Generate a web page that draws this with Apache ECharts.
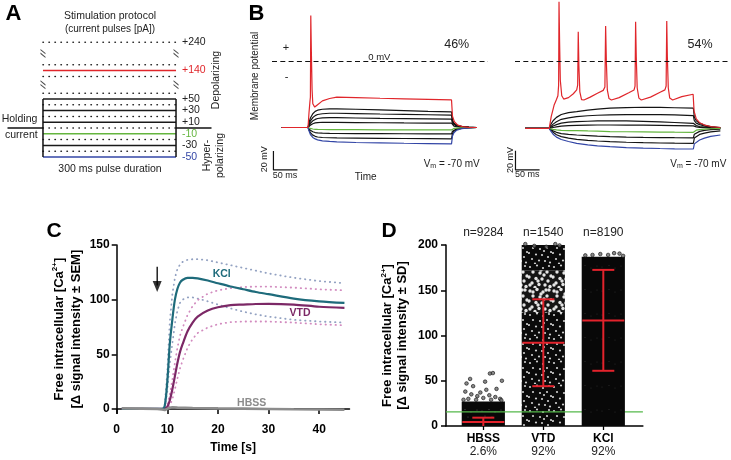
<!DOCTYPE html>
<html><head><meta charset="utf-8">
<script src="https://cdn.jsdelivr.net/npm/echarts@6/dist/echarts.min.js"></script>
<style>html,body{margin:0;padding:0;background:#fff}#c{width:731px;height:460px}</style>
</head><body><div id="c"></div>
<script>
// ================= DATA =================
// Panel A: stimulation protocol (pA)
const pulseLevels = [240,150,140,130,60,50,40,30,20,10,0,-10,-20,-30,-40,-50];
const labeledLevels = [240,140,50,30,10,-10,-30,-50];
const solidLevels = [50,30,10,-30];
const pulseWindow = [0,300];          // ms
const holdingWindow = [-80,380];      // ms
const breakPairs = [[60,130],[150,240]];

// Panel B left (time ms, membrane potential mV)
const tLeft = [-55,0,2,5,10,15,20,30,45,60,100,150,200,250,299,301,304,310,320,335,352];
const L_b1 = [-70,-70,-65,-60,-55.5,-53,-51.8,-50.8,-50.3,-50.3,-50.8,-51.5,-52.3,-53,-53.5,-62,-65.5,-67.5,-68.8,-69.6,-70];
const L_b2 = [-70,-70,-67,-63,-59.5,-57.5,-56.3,-55.5,-55,-55,-55.3,-55.8,-56.2,-56.6,-57,-63.5,-66.5,-68,-69,-69.7,-70];
const L_b3 = [-70,-70,-68,-65.5,-63,-61.5,-60.5,-59.8,-59.6,-59.7,-60,-60.4,-60.7,-61,-61.2,-65.5,-67.5,-68.7,-69.3,-69.8,-70];
const L_b4 = [-70,-70,-69,-67.5,-66,-65.2,-64.8,-64.5,-64.5,-64.6,-64.8,-65,-65.2,-65.3,-65.4,-67.5,-68.5,-69.2,-69.6,-69.9,-70];
const L_green = [-70,-70,-70.5,-71,-71.6,-71.9,-72,-72.1,-72.2,-72.3,-72.3,-72.4,-72.5,-72.5,-72.6,-71.5,-71,-70.6,-70.3,-70.1,-70];
const L_b5 = [-70,-70,-71.5,-73,-74.5,-75.3,-75.7,-76,-76.2,-76.3,-76.4,-76.5,-76.6,-76.7,-76.8,-74,-72.5,-71.3,-70.6,-70.2,-70];
const L_b6 = [-70,-70,-72.5,-75.5,-78,-79.3,-80,-80.5,-80.8,-81,-81.2,-81.4,-81.6,-81.8,-82,-76.5,-74,-72,-70.9,-70.3,-70];
const L_blue = [-70,-70,-73.5,-77.5,-80.5,-82,-83,-84,-84.7,-85.2,-85.8,-86.2,-86.6,-86.9,-87.2,-79,-75.5,-72.8,-71.2,-70.4,-70];
const leftRed = [[-55,-70],[0,-70],[2,-55],[4,-43],[5,-38],[5.8,48],[7,10],[8.5,-30],[10,-45],[14,-48.5],[20,-46],[30,-42],[45,-39.5],[60,-38],[100,-38.5],[150,-39.2],[200,-39.8],[250,-40.3],[299,-41],[301,-58],[305,-64],[312,-67.5],[322,-69],[335,-69.8],[352,-70]];

// Panel B right
const tRight = [-50,0,3,8,15,25,40,57,80,100,126,160,195,230,260,299,301,305,312,322,335,355];
const R_b1 = [-70,-70,-66,-62,-58.5,-55.5,-53.5,-52.5,-51,-50,-49,-48.3,-48,-48.2,-48.5,-49,-58,-62,-64.5,-66.5,-68,-69];
const R_b2 = [-70,-70,-68,-65.5,-63,-60.5,-59,-57.7,-56.8,-56.3,-56,-55.6,-55.5,-55.7,-56,-56.7,-62,-64.5,-66,-67.5,-68.5,-69.3];
const R_b3 = [-70,-70,-69,-67.5,-66,-64.5,-63.5,-63,-62.5,-62.2,-62,-62.2,-62.6,-63.2,-63.8,-64.7,-66,-67,-68,-68.7,-69.2,-69.7];
const R_b4 = [-70,-70,-69.5,-69,-68.3,-67.5,-67,-66.7,-66.5,-66.4,-66.4,-66.5,-66.6,-66.8,-67,-67.3,-67.8,-68.3,-68.8,-69.2,-69.6,-69.9];
const R_green = [-70,-70,-70.5,-71,-71.5,-72,-72.2,-72.3,-72.6,-72.8,-73.2,-73.4,-73.6,-73.8,-73.9,-74,-72.5,-71.8,-71.2,-70.7,-70.3,-70];
const R_b5 = [-70,-70,-71,-72.5,-74,-75.3,-76.2,-76.8,-77.4,-77.9,-78.5,-79,-79.3,-79.5,-79.6,-79.7,-76,-74.5,-73,-72,-71.2,-70.6];
const R_b6 = [-70,-70,-71.5,-74,-76.5,-78.5,-80,-81.3,-82.3,-83,-83.7,-84.3,-84.8,-85.1,-85.3,-85.4,-80,-78,-76.2,-74.8,-73.5,-72.5];
const R_blue = [-70,-70,-72.5,-76,-79,-81.5,-83.5,-85.4,-87,-88,-88.9,-89.8,-90.4,-90.8,-91.1,-91.3,-86,-84,-82,-80,-78.2,-76.8];
const rightRed = [[-50,-70],[0,-70],[4,-58],[10,-46],[15,-40],[18,-36],[19.5,-25],[20.3,61.5],[21.5,20],[23,-20],[26,-36],[30,-39.5],[40,-38],[50,-34],[57,-30],[59,-25],[60.2,30.4],[61.5,-5],[63.5,-32],[67,-40],[72,-40.5],[85,-37.5],[100,-33.5],[112,-30.5],[115.5,-27],[117,36.3],[118.5,0],[120.5,-30],[124,-39],[129,-40.5],[145,-38],[165,-33],[176,-30],[178,-26],[179.2,40.8],[180.5,5],[182.5,-28],[186,-38.5],[191,-40.5],[210,-37.5],[230,-32.5],[240,-30],[242.5,-26],[243.8,41.5],[245,5],[247,-28],[250,-38.5],[256,-40.5],[275,-37],[298.5,-34.5],[300.5,-52],[305,-60],[312,-64],[322,-66.5],[335,-68],[355,-69]];
const scaleBarMv = 20, scaleBarMs = 50;
const leftScaleOrigin = [-72,-114.7];
const rightScaleOrigin = [-70,-113];

// Panel C (time s, Δ signal)
const tC = [1,5,9,9.5,10,10.5,11,11.5,12,12.5,13,14,15,16,18,20,22.5,25,27.5,30,35,40,45];
const kclMean = [0,0,0,3,25,60,82,100,110,115.5,118,120,120,119.5,117.5,115,112,109.5,107,105,101,98.5,97];
const vtdMean = [0,0,0,0.5,2,8,18,30,42,52,59,71,79,84.5,90,93,95,95.5,96,96.2,95.5,93.5,92.5];
const tSem = [9.5,10,10.5,11,11.5,12,12.5,13,14,15,16,18,20,22.5,25,27.5,30,35,40,45];
const kclUpper = [4,35,80,105,120,128,132,134.5,136.5,137,137,136,134,131.5,129,126.5,124,120,117,115];
const kclLower = [2,16,42,60,78,90,97,100,102,102,101,98.5,95.5,92,89,86.5,84.5,81.5,80,79];
const vtdUpper = [1,4,13,27,42,56,67,74,86,94,99.5,105.5,108.5,110.5,111.5,112,112,111,109.5,108.5];
const vtdLower = [0,0.5,3,9,18,28,37,44,56,64,69.5,74.5,77.5,79.5,80,80,80,79,77.5,76.5];
const tHbss = [1,5,8,9,9.5,10,10.5,11,12,15,20,25,30,35,40,45];
const hbss = [0.5,0.3,0,-0.5,-1,0,1,1.5,1.2,0.8,0.5,0.3,0,-0.3,-0.5,-0.8];
const stimulusTime = 8, arrowFrom = 130, arrowTo = 107;
const cXTicks = [0,10,20,30,40];
const cYTicks = [0,50,100,150];

// Panel D
const dCats = ['HBSS','VTD','KCl'];
const dPercent = ['2.6%','92%','92%'];
const dN = ['n=9284','n=1540','n=8190'];
const dMean = [4.3,92,116.5];
const dSdLow = [0,44,61];
const dSdHigh = [9.2,140,172.5];
const dColumnTop = [27,200,187];
const vtdBandEdges = [0,125,172,200];
const dThreshold = 15.5;
const hbssOutliers = [[-0.22,52],[0.03,49],[0.11,58],[0.16,58.5],[0.31,50],[-0.28,47],[-0.17,44],[-0.3,38],[-0.2,35],[-0.1,33],[0,31],[0.1,34],[0.2,32],[0.28,30],[-0.05,37],[0.05,40],[0.22,41],[-0.25,30],[0.13,29],[-0.12,29],[0.3,28.5],[-0.33,29]];
const vtdOutliers = [[-0.3,201],[-0.15,199],[0.2,201],[0.27,199.5],[0.05,198]];
const kclOutliers = [[-0.3,188.5],[-0.18,189],[-0.05,190],[0.08,189],[0.18,191],[0.27,190.5],[0.33,188]];

// ================= STYLE / BUILD =================
const FONT = "'Liberation Sans', Arial, Helvetica, sans-serif";
const RED = '#e0262b', GREEN = '#64b53f', BLUE = '#3346a6', BLK = '#141414';

function rowOf(p){ if (p > 200) return p - 92; if (p > 100) return p - 41; return p; }
const zip = (t, v) => t.map((x,i) => [x, v[i]]);

const series = [];
// ---- Panel A
pulseLevels.forEach(p => {
  const row = rowOf(p);
  let color = '#1a1a1a', labelColor = '#222';
  if (p === 140) { color = RED; labelColor = RED; }
  if (p === -10) { color = GREEN; labelColor = GREEN; }
  if (p === -50) { color = BLUE; labelColor = BLUE; }
  const solid = solidLevels.includes(p) || p === 140 || p === -10 || p === -50;
  const lab = labeledLevels.includes(p);
  series.push({
    type:'line', xAxisIndex:0, yAxisIndex:0, silent:true, symbol:'none',
    name: (p > 0 ? '+' : '') + p,
    data:[[pulseWindow[0], row],[pulseWindow[1], row]],
    lineStyle: solid ? {color, width:1.5} : {color:'#222', width:1.5, type:[0.4,5.6], cap:'round'},
    endLabel: lab ? {show:true, formatter: (prm) => prm.seriesName, color: labelColor, fontSize:10.5, fontFamily:FONT, distance:6} : {show:false}
  });
});
series.push({type:'line', xAxisIndex:0, yAxisIndex:0, silent:true, symbol:'none',
  data:[[holdingWindow[0],0],[pulseWindow[0],0]], lineStyle:{color:'#111', width:1.5}});
series.push({type:'line', xAxisIndex:0, yAxisIndex:0, silent:true, symbol:'none',
  data:[[pulseWindow[1],0],[holdingWindow[1],0]], lineStyle:{color:'#111', width:1.5}});
pulseWindow.forEach(x => series.push({type:'line', xAxisIndex:0, yAxisIndex:0, silent:true, symbol:'none',
  data:[[x,-50],[x,50]], lineStyle:{color:'#111', width:1.5}}));
series.push({type:'scatter', xAxisIndex:0, yAxisIndex:0, silent:true,
  symbol:'path://M0,0 L6,5 L6,6.6 L0,1.6 Z M0,4.5 L6,9.5 L6,11.1 L0,6.1 Z', symbolSize:[5,9],
  itemStyle:{color:'#222'},
  data: breakPairs.flatMap(([a,b]) => { const r = (rowOf(a)+rowOf(b))/2; return [[pulseWindow[0], r],[pulseWindow[1], r]]; })});

// ---- Panel B
function traceSeries(xi, data, color, w){ return {type:'line', xAxisIndex:xi, yAxisIndex:xi, silent:true, symbol:'none', data, lineStyle:{color, width:w||1.2}}; }
const zeroLine = {silent:true, symbol:['none','none'], label:{show:false}, lineStyle:{color:'#111', type:[5,3.3], width:1.1}, data:[{yAxis:0}]};
[[1, tLeft, [L_b1,L_b2,L_b3,L_b4], L_green, [L_b5,L_b6], L_blue, leftRed, leftScaleOrigin],
 [2, tRight, [R_b1,R_b2,R_b3,R_b4], R_green, [R_b5,R_b6], R_blue, rightRed, rightScaleOrigin]].forEach(([xi, t, up, gr, down, bl, red, so]) => {
  up.forEach(v => series.push(traceSeries(xi, zip(t,v), BLK)));
  down.forEach(v => series.push(traceSeries(xi, zip(t,v), BLK)));
  series.push(traceSeries(xi, zip(t,gr), GREEN));
  series.push(traceSeries(xi, zip(t,bl), BLUE));
  const r = traceSeries(xi, red, RED, 1.2);
  r.markLine = zeroLine;
  series.push(r);
  series.push({type:'line', xAxisIndex:xi, yAxisIndex:xi, silent:true, symbol:'none',
    data:[[so[0], so[1]+scaleBarMv],[so[0], so[1]],[so[0]+scaleBarMs, so[1]]], lineStyle:{color:'#111', width:1.2}});
});

// ---- Panel C
const KCL = '#1e6b7b', VTD = '#7c2866', KCL_SEM = '#93a2c2', VTD_SEM = '#d28bbf';
const dotStyle = (c) => ({color:c, width:1.8, type:[0.4,4.6], cap:'round'});
series.push({type:'line', xAxisIndex:3, yAxisIndex:3, silent:true, symbol:'none', data:zip(tSem,kclUpper), lineStyle:dotStyle(KCL_SEM)});
series.push({type:'line', xAxisIndex:3, yAxisIndex:3, silent:true, symbol:'none', data:zip(tSem,kclLower), lineStyle:dotStyle(KCL_SEM)});
series.push({type:'line', xAxisIndex:3, yAxisIndex:3, silent:true, symbol:'none', data:zip(tSem,vtdUpper), lineStyle:dotStyle(VTD_SEM)});
series.push({type:'line', xAxisIndex:3, yAxisIndex:3, silent:true, symbol:'none', data:zip(tSem,vtdLower), lineStyle:dotStyle(VTD_SEM)});
series.push({type:'line', xAxisIndex:3, yAxisIndex:3, silent:true, symbol:'none', smooth:0.3, data:zip(tC,vtdMean), lineStyle:{color:VTD, width:2.2}});
series.push({type:'line', xAxisIndex:3, yAxisIndex:3, silent:true, symbol:'none', smooth:0.3, data:zip(tC,kclMean), lineStyle:{color:KCL, width:2.2}});
series.push({type:'line', xAxisIndex:3, yAxisIndex:3, silent:true, symbol:'none', data:zip(tHbss,hbss), lineStyle:{color:'#8c8c8c', width:2.6}});
// stimulus arrow
series.push({type:'line', xAxisIndex:3, yAxisIndex:3, silent:true, symbol:'none',
  data:[[stimulusTime, arrowFrom],[stimulusTime, arrowTo + 6]], lineStyle:{color:'#000', width:1.3}});
series.push({type:'scatter', xAxisIndex:3, yAxisIndex:3, silent:true, symbol:'triangle', symbolRotate:180, symbolSize:[9,11],
  itemStyle:{color:'#000'}, data:[[stimulusTime, arrowTo + 5]]});

// ---- Panel D
function tile(size, bg, dotColor, dots, r){
  const c = document.createElement('canvas'); c.width = c.height = size;
  const g = c.getContext('2d'); g.fillStyle = bg; g.fillRect(0,0,size,size);
  g.fillStyle = dotColor;
  dots.forEach(([x,y]) => { g.beginPath(); g.arc(x,y,r,0,Math.PI*2); g.fill(); });
  return {image:c, repeat:'repeat'};
}
const speckles = [[2,3],[9,1.5],[15,4],[21,2],[5,8],[12,9],[19,8],[23,12],[1,13],[8,14.5],[14,15],[20,17],[4,19],[11,20.5],[17,21],[22,22.5],[7,23.5],[16,11]];
const patDense = tile(24,'#0a0a0a','#cfcfcf',speckles,1.1);
const patSparse = tile(24,'#151515','#e4e4e4',speckles.concat([[5,4],[18,2],[10,17],[2,21],[13,6]]),1.7);
const patHbss = tile(24,'#080808','#555',speckles.slice(0,6),0.6);
const patKcl = tile(24,'#080808','#333',speckles.slice(0,4),0.5);
const HALF = 0.36;
function columnRender(params, api){
  const x = api.value(0), lo = api.value(1), hi = api.value(2), k = api.value(3);
  const p0 = api.coord([x - HALF, lo]), p1 = api.coord([x + HALF, hi]);
  const fills = [patHbss, patDense, patSparse, patKcl];
  return {type:'rect', shape:{x:p0[0], y:p1[1], width:p1[0]-p0[0], height:p0[1]-p1[1]}, style:{fill: fills[k]}};
}
const lowCols = [[1, 0, dColumnTop[0], 0]];
for (let i = 0; i < vtdBandEdges.length - 1; i++) lowCols.push([2, vtdBandEdges[i], vtdBandEdges[i+1], i === 1 ? 2 : 1]);
series.push({type:'custom', xAxisIndex:4, yAxisIndex:4, silent:true, z:1, renderItem:columnRender, data:lowCols});
series.push({type:'line', xAxisIndex:4, yAxisIndex:4, silent:true, symbol:'none', z:2,
  data:[[0.378,dThreshold],[3.66,dThreshold]], lineStyle:{color:'#55b84a', width:1.3}});
series.push({type:'custom', xAxisIndex:4, yAxisIndex:4, silent:true, z:3, renderItem:columnRender, data:[[3, 0, dColumnTop[2], 3]]});
series.push({type:'scatter', xAxisIndex:4, yAxisIndex:4, silent:true, z:3, clip:false, symbolSize:3.6,
  itemStyle:{color:'#6a6a6a', borderColor:'#111', borderWidth:0.8},
  data:[...hbssOutliers.map(([d,y]) => [1+d,y]), ...vtdOutliers.map(([d,y]) => [2+d,y]), ...kclOutliers.map(([d,y]) => [3+d,y])]});
series.push({type:'custom', xAxisIndex:4, yAxisIndex:4, silent:true, z:4,
  data: dCats.map((c,i) => [i+1, dMean[i], dSdLow[i], dSdHigh[i]]),
  renderItem:(params, api) => {
    const x = api.value(0), m = api.coord([x, api.value(1)]), lo = api.coord([x, api.value(2)]), hi = api.coord([x, api.value(3)]);
    const st = {stroke:'#e3232c', lineWidth:2};
    const ch = [
      {type:'line', shape:{x1:m[0], y1:lo[1], x2:m[0], y2:hi[1]}, style:st},
      {type:'line', shape:{x1:m[0]-21, y1:m[1], x2:m[0]+21, y2:m[1]}, style:st},
      {type:'line', shape:{x1:m[0]-11, y1:hi[1], x2:m[0]+11, y2:hi[1]}, style:st}
    ];
    if (api.value(2) > 0) ch.push({type:'line', shape:{x1:m[0]-11, y1:lo[1], x2:m[0]+11, y2:lo[1]}, style:st});
    return {type:'group', children:ch};
  }});

// ---- Axes
const axisBlack = {lineStyle:{color:'#000', width:1.5}};
const hidden = (gi, min, max) => ({gridIndex:gi, type:'value', min, max, show:false});
const tickFont = {color:'#000', fontWeight:'bold', fontSize:12, fontFamily:FONT};
const option = {
  animation:false,
  grid:[
    {left:7.5, top:41, width:204, height:121.8},
    {left:272, top:0.2, width:216, height:179.55},
    {left:515, top:0.27, width:215, height:181.2},
    {left:116.7, top:245, width:232.8, height:168.3},
    {left:446, top:245, width:196.9, height:181}
  ],
  xAxis:[
    hidden(0,-80,380), hidden(1,-75,375), hidden(2,-71,375),
    {gridIndex:3, type:'value', min:0, max:46, axisLine:axisBlack, splitLine:{show:false},
     axisTick:{customValues:cXTicks, length:5, lineStyle:{color:'#000', width:1.5}},
     axisLabel:{customValues:cXTicks, ...tickFont, margin:10},
     name:'Time [s]', nameLocation:'middle', nameGap:28, nameTextStyle:{color:'#000', fontWeight:'bold', fontSize:12, fontFamily:FONT}},
    {gridIndex:4, type:'value', min:0.378, max:3.66, axisLine:axisBlack, splitLine:{show:false},
     axisTick:{customValues:[1,2,3], length:4, lineStyle:{color:'#000', width:1.3}},
     axisLabel:{customValues:[1,2,3], margin:6, formatter:(v) => '{b|' + dCats[Math.round(v)-1] + '}\n{p|' + dPercent[Math.round(v)-1] + '}',
       rich:{b:{fontWeight:'bold', fontSize:12, fontFamily:FONT, color:'#000', lineHeight:13.4}, p:{fontSize:12, fontFamily:FONT, color:'#222', lineHeight:13.4}}}},
    {gridIndex:4, type:'value', position:'top', min:0.378, max:3.66, axisLine:{show:false}, axisTick:{show:false}, splitLine:{show:false},
     axisLabel:{customValues:[1,2,3], margin:6, color:'#222', fontSize:12, fontFamily:FONT, formatter:(v) => dN[Math.round(v)-1]}}
  ],
  yAxis:[
    hidden(0,-60,150), hidden(1,-125,64), hidden(2,-125,63),
    {gridIndex:3, type:'value', min:-4, max:150, axisLine:{show:true, ...axisBlack}, splitLine:{show:false},
     axisTick:{customValues:cYTicks, length:5, lineStyle:{color:'#000', width:1.5}},
     axisLabel:{customValues:cYTicks, ...tickFont, margin:7},
     name:'{a|Free intracellular [Ca}{s|2+}{a|]}\n{a|[Δ signal intensity ± SEM]}', nameLocation:'middle', nameRotate:90, nameGap:32,
     nameTextStyle:{rich:{a:{fontWeight:'bold', fontSize:13, fontFamily:FONT, color:'#000', lineHeight:17}, s:{fontWeight:'bold', fontSize:8, fontFamily:FONT, color:'#000', verticalAlign:'top', lineHeight:17}}}},
    {gridIndex:4, type:'value', min:0, max:200, interval:50, axisLine:{show:true, ...axisBlack}, splitLine:{show:false},
     axisTick:{length:5, lineStyle:{color:'#000', width:1.5}},
     axisLabel:{...tickFont, margin:8},
     name:'{a|Free intracellular [Ca}{s|2+}{a|]}\n{a|[Δ signal intensity ± SD]}', nameLocation:'middle', nameRotate:90, nameGap:36,
     nameTextStyle:{rich:{a:{fontWeight:'bold', fontSize:13, fontFamily:FONT, color:'#000', lineHeight:15}, s:{fontWeight:'bold', fontSize:8, fontFamily:FONT, color:'#000', verticalAlign:'top', lineHeight:15}}}}
  ],
  series
};

// ---- Annotations (text)
const T = (x, y, text, o = {}) => ({type:'text', x, y, rotation:o.rot || 0, silent:true, z:100,
  style:{text, fontSize:o.size || 10.5, fontFamily:o.family || FONT, fontWeight:o.weight || 'normal', fill:o.color || '#222',
    align:o.align || 'center', verticalAlign:'middle', lineHeight:o.lh, rich:o.rich}});
const vmRich = {n:{fontSize:10, fontFamily:FONT, color:'#222'}, s:{fontSize:7, fontFamily:FONT, color:'#222', verticalAlign:'bottom', padding:[4,0,0,0]}};
option.graphic = [
  T(13.5,13.5,'A',{size:22, weight:'bold', color:'#000'}),
  T(256.5,13.5,'B',{size:22, weight:'bold', color:'#000'}),
  T(54,231.5,'C',{size:21, weight:'bold', color:'#000'}),
  T(389,231.5,'D',{size:21, weight:'bold', color:'#000'}),
  T(110,16,'Stimulation protocol',{size:10.5}),
  T(110,29.3,'(current pulses [pA])',{size:10}),
  T(1.7,119.3,'Holding',{size:10.5, align:'left'}),
  T(5,135,'current',{size:10.5, align:'left'}),
  T(110,169,'300 ms pulse duration',{size:10.5}),
  T(216,80,'Depolarizing',{size:10.5, rot:Math.PI/2}),
  T(213.3,155.5,'Hyper-\npolarizing',{size:10.5, rot:Math.PI/2, lh:13.3}),
  T(255,76,'Membrane potential',{size:10, rot:Math.PI/2}),
  T(286,48.3,'+',{size:11}),
  T(286.7,77.3,'-',{size:11}),
  T(379.3,57,'0 mV',{size:9.5}),
  T(456.7,44.3,'46%',{size:12.5}),
  T(700,44.3,'54%',{size:12.5}),
  T(451.7,164.3,'{n|V}{s|m}{n| = -70 mV}',{rich:vmRich}),
  T(698.3,164.3,'{n|V}{s|m}{n| = -70 mV}',{rich:vmRich}),
  T(365.7,177.7,'Time',{size:10}),
  T(265,159.3,'20 mV',{size:9, rot:Math.PI/2}),
  T(285,175.7,'50 ms',{size:9}),
  T(510.7,160,'20 mV',{size:9, rot:Math.PI/2}),
  T(527.3,175,'50 ms',{size:9}),
  T(221.7,274.3,'KCl',{size:10.5, weight:'bold', color:KCL}),
  T(300,312.7,'VTD',{size:10.5, weight:'bold', color:VTD}),
  T(251.7,402.7,'HBSS',{size:10.5, weight:'bold', color:'#8c8c8c'})
];

const chart = echarts.init(document.getElementById('c'), null, {renderer:'canvas'});
chart.setOption(option);
</script></body></html>
